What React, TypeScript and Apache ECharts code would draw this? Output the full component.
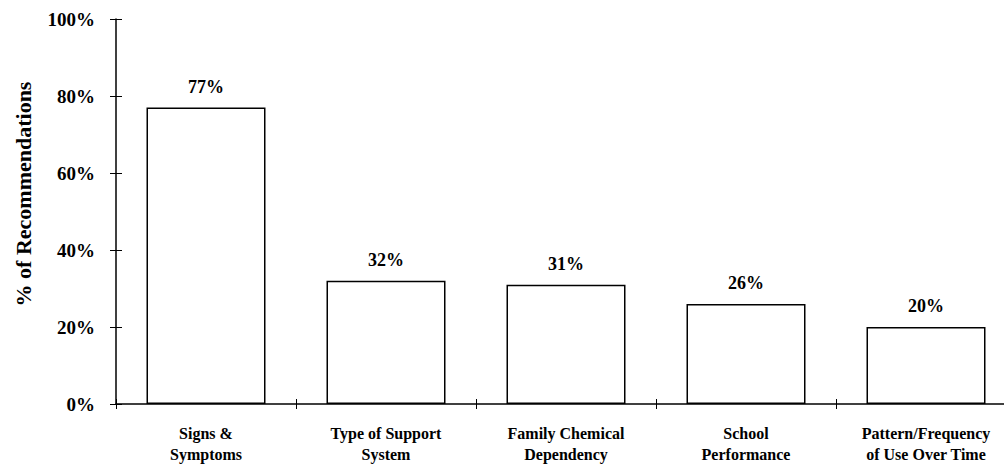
import React, { useEffect, useRef } from "react";
import * as echarts from "echarts";

const categories = [
  "Signs &\nSymptoms",
  "Type of Support\nSystem",
  "Family Chemical\nDependency",
  "School\nPerformance",
  "Pattern/Frequency\nof Use Over Time",
];
const values = [77, 32, 31, 26, 20];
const yTicks = [0, 20, 40, 60, 80, 100];
const yTitle = "% of Recommendations";

const FONT = "'Liberation Serif', 'Times New Roman', serif";

export default function App() {
  const ref = useRef<HTMLDivElement>(null);
  useEffect(() => {
    const chart = echarts.init(ref.current!, null, { renderer: "svg" });
    const yAxisBase = {
      type: "value",
      min: yTicks[0],
      max: yTicks[yTicks.length - 1],
      interval: 20,
      splitLine: { show: false },
    };
    chart.setOption({
      animation: false,
      backgroundColor: "#ffffff",
      grid: { left: 116, top: 19, width: 900, height: 385, containLabel: false },
      graphic: [
        {
          type: "text",
          x: 23,
          y: 194,
          rotation: Math.PI / 2,
          style: {
            text: yTitle,
            fill: "#000",
            font: `bold 22px ${FONT}`,
            align: "center",
            verticalAlign: "middle",
          },
        },
      ],
      xAxis: [
        {
          type: "category",
          data: categories,
          axisLine: { show: true, lineStyle: { color: "#000", width: 1.5 } },
          axisTick: { show: true, length: 5, lineStyle: { color: "#000", width: 1 } },
          axisLabel: {
            color: "#000",
            fontFamily: FONT,
            fontWeight: "bold",
            fontSize: 16,
            lineHeight: 21,
            margin: 19,
          },
        },
        {
          type: "category",
          data: categories,
          position: "bottom",
          axisLine: { show: false },
          axisTick: { show: true, inside: true, length: 5, lineStyle: { color: "#000", width: 1 } },
          axisLabel: { show: false },
        },
      ],
      yAxis: [
        {
          ...yAxisBase,
          axisLine: { show: true, lineStyle: { color: "#000", width: 1.5 } },
          axisTick: { show: true, length: 6, lineStyle: { color: "#000", width: 1 } },
          axisLabel: {
            color: "#000",
            fontFamily: FONT,
            fontWeight: "bold",
            fontSize: 19,
            margin: 21,
            formatter: (v: number) => `${v}%`,
          },
        },
        {
          ...yAxisBase,
          position: "left",
          axisLine: { show: false },
          axisTick: { show: true, inside: true, length: 6, lineStyle: { color: "#000", width: 1 } },
          axisLabel: { show: false },
        },
      ],
      series: [
        {
          type: "bar",
          data: values,
          barWidth: 119,
          itemStyle: { color: "#ffffff", borderColor: "#000", borderWidth: 1.5 },
          label: {
            show: true,
            position: "top",
            distance: 12,
            color: "#000",
            fontFamily: FONT,
            fontWeight: "bold",
            fontSize: 18,
            formatter: (p: any) => `${p.value}%`,
          },
        },
      ],
    });
    return () => chart.dispose();
  }, []);
  return (
    <div
      style={{ position: "fixed", left: 0, top: 0, width: 1004, height: 466, overflow: "hidden", background: "#fff" }}
    >
      <div ref={ref} style={{ width: 1024, height: 466 }} />
    </div>
  );
}
